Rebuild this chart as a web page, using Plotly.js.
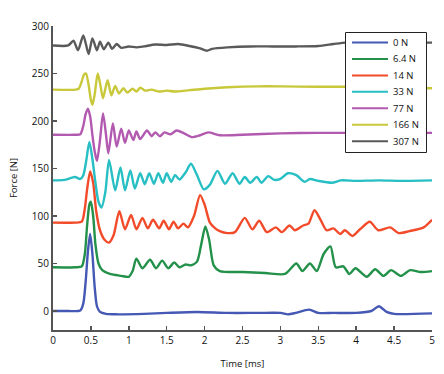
<!DOCTYPE html>
<html><head><meta charset="utf-8">
<script src="https://cdn.plot.ly/plotly-3.0.1.min.js"></script>
<style>html,body{margin:0;padding:0;background:#fff}#chart{width:444px;height:374px}</style>
</head><body><div id="chart"></div>
<script>
// Series names (legend labels) and colours
const seriesNames = ["0 N", "6.4 N", "14 N", "33 N", "77 N", "166 N", "307 N"];
const seriesColors = ["#4458b4", "#23914a", "#f24b2a", "#27bfc4", "#b25ab0", "#c8c83a", "#5a5a5a"];

// 0 N
const t0 = [0, 0.2, 0.36, 0.40, 0.43, 0.46, 0.49, 0.52, 0.55, 0.58, 0.62, 0.7, 0.85, 1.2, 1.5, 1.9, 2.3, 2.7, 3.0, 3.1, 3.2, 3.38, 3.5, 3.7, 4.0, 4.2, 4.3, 4.4, 4.5, 5.0];
const f0 = [0, 0, 0.5, 8, 30, 62, 81, 60, 25, 5, -1, -3, -3.5, -3, -2, -1, -2, -2, -2, -3.5, -2, 1.5, -2, -2, -2, 0, 5, -1, -3, -2.5];

// 6.4 N
const t1 = [0, 0.3, 0.38, 0.42, 0.45, 0.48, 0.50, 0.53, 0.56, 0.6, 0.65, 0.75, 0.9, 1.0, 1.05, 1.1, 1.18, 1.28, 1.36, 1.44, 1.52, 1.6, 1.67, 1.75, 1.82, 1.9, 1.96, 2.01, 2.06, 2.12, 2.2, 2.5, 2.8, 3.06, 3.21, 3.29, 3.39, 3.48, 3.57, 3.66, 3.73, 3.83, 3.91, 3.99, 4.14, 4.25, 4.36, 4.46, 4.59, 4.71, 4.85, 5.0];
const f1 = [46, 46, 47, 60, 90, 112, 115, 100, 70, 50, 43, 39, 37, 36, 42, 55, 45, 54, 45, 53, 45, 51, 46, 49, 48, 52, 72, 89, 75, 48, 42, 41, 40, 39, 50, 42, 50, 42, 60, 68, 46, 47, 39, 45, 36, 44, 37, 43, 37, 43, 41, 42];

// 14 N
const t2 = [0, 0.3, 0.38, 0.42, 0.45, 0.49, 0.53, 0.57, 0.62, 0.68, 0.74, 0.8, 0.875, 0.95, 1.03, 1.1, 1.18, 1.25, 1.32, 1.4, 1.46, 1.53, 1.59, 1.65, 1.72, 1.78, 1.86, 1.94, 2.0, 2.07, 2.14, 2.2, 2.3, 2.4, 2.53, 2.63, 2.72, 2.82, 2.94, 3.02, 3.12, 3.19, 3.30, 3.37, 3.45, 3.53, 3.61, 3.70, 3.79, 3.85, 3.95, 4.05, 4.18, 4.29, 4.45, 4.56, 4.7, 4.89, 5.0];
const f2 = [93, 93, 94, 108, 128, 147, 135, 105, 85, 75, 72, 80, 105, 86, 101, 86, 98, 87, 96, 87, 95, 86, 94, 87, 92, 88, 100, 122, 112, 93, 87, 84, 82, 83, 98, 86, 95, 83, 88, 83, 90, 85, 90, 92, 106, 96, 85, 87, 81, 85, 79, 86, 94, 85, 88, 82, 84, 88, 96];

// 33 N
const t3 = [0, 0.15, 0.29, 0.36, 0.40, 0.44, 0.48, 0.52, 0.56, 0.6, 0.64, 0.69, 0.74, 0.82, 0.89, 0.95, 1.02, 1.08, 1.15, 1.21, 1.27, 1.33, 1.39, 1.45, 1.50, 1.56, 1.61, 1.67, 1.75, 1.82, 1.9, 1.99, 2.07, 2.17, 2.27, 2.37, 2.46, 2.53, 2.6, 2.69, 2.75, 2.84, 2.92, 3.0, 3.10, 3.21, 3.32, 3.39, 3.5, 3.68, 3.8, 4.0, 4.3, 4.6, 5.0];
const f3 = [137.5, 138, 141, 139, 143, 159, 178, 160, 135, 115, 109, 125, 159, 127, 151, 127, 148, 129, 145, 133.5, 145, 134, 145, 135, 145, 136, 143, 138.5, 146, 155, 143, 128, 133, 147.5, 134, 145, 134, 141, 135, 141, 135, 142, 138, 139, 145, 143, 136, 139, 137, 135, 137.5, 137, 137.5, 137, 137.5];

// 77 N
const t4 = [0, 0.3, 0.36, 0.40, 0.43, 0.46, 0.49, 0.52, 0.55, 0.58, 0.62, 0.66, 0.70, 0.73, 0.79, 0.84, 0.90, 0.95, 1.0, 1.06, 1.10, 1.15, 1.24, 1.3, 1.35, 1.41, 1.47, 1.55, 1.63, 1.73, 1.83, 1.94, 2.05, 2.2, 2.5, 3.0, 3.5, 4.0, 4.5, 5.0];
const f4 = [185.5, 185.5, 186, 195, 207, 213, 205, 185, 168, 158, 180, 208, 185, 166, 197.5, 173, 192, 177, 190, 180, 189, 181, 190, 184, 188, 184, 188, 186, 190, 187, 183, 185, 188, 185, 185.5, 187, 187.5, 187.5, 187.5, 187.5];

// 166 N
const t5 = [0, 0.3, 0.34, 0.38, 0.41, 0.435, 0.47, 0.50, 0.52, 0.55, 0.59, 0.62, 0.66, 0.72, 0.77, 0.82, 0.87, 0.93, 0.98, 1.05, 1.10, 1.15, 1.22, 1.3, 1.4, 1.5, 1.6, 1.8, 2.0, 2.3, 2.7, 3.0, 3.5, 4.0, 4.5, 5.0];
const f5 = [233, 233, 234, 242, 249, 250, 238, 222, 217, 228, 250, 240, 224, 243, 227, 237, 229, 234.5, 230, 234, 231, 235, 232, 233, 231, 232, 231, 232.5, 234, 235.5, 236.5, 236.5, 236, 236, 235, 234.5];

// 307 N
const t6 = [0, 0.2, 0.27, 0.33, 0.4, 0.47, 0.52, 0.58, 0.62, 0.67, 0.73, 0.78, 0.84, 0.9, 1.0, 1.1, 1.2, 1.35, 1.5, 1.65, 1.8, 1.94, 2.03, 2.1, 2.3, 2.6, 2.9, 3.2, 3.5, 3.7, 3.86, 4.2, 4.6, 5.0];
const f6 = [279.5, 279.5, 284.5, 274.5, 290, 270.5, 287, 274.5, 283.5, 275.5, 282.5, 276, 281, 277, 278.5, 277.5, 278.5, 280.5, 280, 281, 279, 276.5, 274, 276, 277.5, 278.5, 278.5, 278.5, 279, 281, 282.5, 282.5, 282.5, 282.5];

// Axis ticks
const xTicks = [0, 0.5, 1, 1.5, 2, 2.5, 3, 3.5, 4, 4.5, 5];
const yTicks = [0, 50, 100, 150, 200, 250, 300];

const times = [t0, t1, t2, t3, t4, t5, t6];
const forces = [f0, f1, f2, f3, f4, f5, f6];

const traces = seriesNames.map((name, i) => ({
  type: 'scatter', mode: 'lines', name: name,
  x: times[i], y: forces[i],
  line: {color: seriesColors[i], width: 2.4, shape: 'spline', smoothing: 0.7},
  showlegend: false, hoverinfo: 'skip'
}));

// Plot area geometry (pixels) used to build a compact legend box
const ML = 53, MR = 12, MT = 26, MB = 44, W = 444, H = 374;
const PW = W - ML - MR, PH = H - MT - MB;
const px = v => (v - ML) / PW;
const py = v => (H - MB - v) / PH;

const shapes = [{
  type: 'rect', xref: 'paper', yref: 'paper',
  x0: px(345.5), x1: px(426.5), y0: py(152.5), y1: py(32.5),
  line: {color: '#222', width: 1}, fillcolor: '#fff', layer: 'above'
}];
const annotations = [];
seriesNames.forEach((name, i) => {
  const yy = py(42.5 + 16.45 * i);
  shapes.push({type: 'line', xref: 'paper', yref: 'paper', x0: px(352), x1: px(388), y0: yy, y1: yy,
    line: {color: seriesColors[i], width: 2}, layer: 'above'});
  annotations.push({xref: 'paper', yref: 'paper', x: px(391), y: yy, xanchor: 'left', yanchor: 'middle',
    text: name, showarrow: false, font: {size: 9.5, color: '#111'}});
});

const layout = {
  width: W, height: H,
  margin: {l: ML, r: MR, t: MT, b: MB, pad: 0},
  paper_bgcolor: '#fff', plot_bgcolor: '#fff',
  font: {family: 'Open Sans, Noto Sans, sans-serif', size: 10, color: '#111'},
  showlegend: false,
  xaxis: {
    range: [0, 5], tickvals: xTicks, ticktext: xTicks.map(String),
    ticks: 'inside', ticklen: 4, tickwidth: 1.5, tickcolor: '#555',
    showline: true, linecolor: '#555', linewidth: 2, showgrid: false, zeroline: false,
    title: {text: 'Time [ms]', font: {size: 9.5}, standoff: 14},
    automargin: false
  },
  yaxis: {
    range: [-20, 300], tickvals: yTicks, ticktext: yTicks.map(String),
    ticks: 'inside', ticklen: 4, tickwidth: 1.5, tickcolor: '#555',
    showline: true, linecolor: '#555', linewidth: 2, showgrid: false, zeroline: false,
    title: {text: 'Force [N]', font: {size: 9.5}, standoff: 13},
    automargin: false
  },
  shapes: shapes,
  annotations: annotations
};

Plotly.newPlot('chart', traces, layout, {staticPlot: true, displayModeBar: false});
</script>
</body></html>
